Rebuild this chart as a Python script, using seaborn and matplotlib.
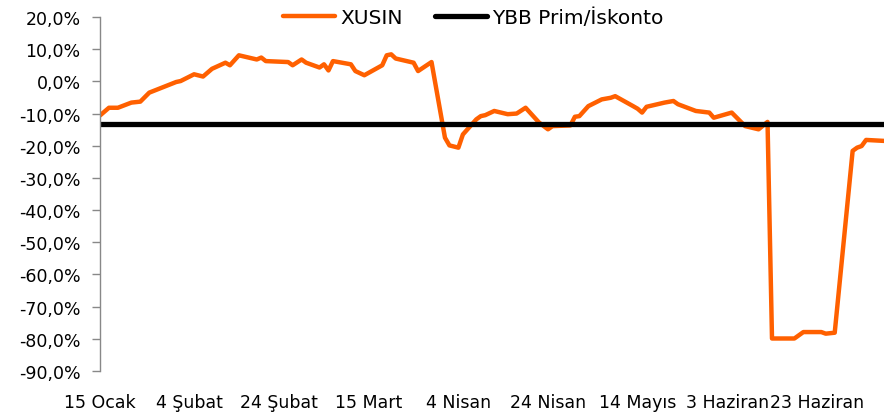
import pandas as pd
import numpy as np
import matplotlib
matplotlib.use('Agg')
import matplotlib.pyplot as plt
import seaborn as sns

# XUSIN series (2024)
dates = ['2024-01-15', '2024-01-17', '2024-01-19', '2024-01-22', '2024-01-24', '2024-01-26',
         '2024-02-01', '2024-02-02', '2024-02-05', '2024-02-07', '2024-02-09', '2024-02-12',
         '2024-02-13', '2024-02-15', '2024-02-19', '2024-02-20', '2024-02-21', '2024-02-26',
         '2024-02-27', '2024-02-29', '2024-03-01', '2024-03-04', '2024-03-05', '2024-03-06',
         '2024-03-07', '2024-03-11', '2024-03-12', '2024-03-14', '2024-03-18', '2024-03-19',
         '2024-03-20', '2024-03-21', '2024-03-25', '2024-03-26', '2024-03-29', '2024-04-01',
         '2024-04-02', '2024-04-04', '2024-04-05', '2024-04-08', '2024-04-09', '2024-04-10',
         '2024-04-12', '2024-04-15', '2024-04-17', '2024-04-19', '2024-04-22', '2024-04-24',
         '2024-04-25', '2024-04-29', '2024-04-30', '2024-05-01', '2024-05-03', '2024-05-06',
         '2024-05-08', '2024-05-09', '2024-05-13', '2024-05-14', '2024-05-15', '2024-05-16',
         '2024-05-20', '2024-05-22', '2024-05-23', '2024-05-27', '2024-05-30', '2024-05-31',
         '2024-06-04', '2024-06-07', '2024-06-10', '2024-06-12', '2024-06-13', '2024-06-18',
         '2024-06-20', '2024-06-24', '2024-06-25', '2024-06-27', '2024-07-01', '2024-07-02',
         '2024-07-03', '2024-07-04', '2024-07-08']
xusin = [-10.6, -8.2, -8.2, -6.6, -6.3, -3.5,
         -0.2, 0.1, 2.2, 1.5, 3.9, 5.8,
         5.0, 8.1, 6.8, 7.4, 6.3, 6.0,
         5.0, 6.8, 5.8, 4.3, 5.3, 3.4,
         6.3, 5.3, 3.2, 1.9, 5.0, 8.1,
         8.4, 7.1, 5.8, 3.2, 6.0, -17.5,
         -19.9, -20.6, -16.5, -11.8, -10.8, -10.5,
         -9.2, -10.2, -10.0, -8.2, -12.8, -14.9,
         -13.9, -13.7, -11.0, -10.8, -7.7, -5.6,
         -5.1, -4.6, -7.7, -8.5, -9.7, -7.9,
         -6.6, -6.1, -7.1, -9.2, -9.7, -11.3,
         -9.7, -13.9, -14.9, -12.6, -79.9, -79.9,
         -77.9, -77.9, -78.4, -78.1, -21.6, -20.6,
         -20.1, -18.2, -18.5]
ybb_prim = -13.4

tick_dates = ['2024-01-15', '2024-02-04', '2024-02-24', '2024-03-15', '2024-04-04',
              '2024-04-24', '2024-05-14', '2024-06-03', '2024-06-23']
tick_labels = ['15 Ocak', '4 Şubat', '24 Şubat', '15 Mart', '4 Nisan',
               '24 Nisan', '14 Mayıs', '3 Haziran', '23 Haziran']
y_ticks = [20, 10, 0, -10, -20, -30, -40, -50, -60, -70, -80, -90]

df = pd.DataFrame({'tarih': pd.to_datetime(dates), 'XUSIN': xusin})

sns.set_style('white')
plt.rcParams['font.family'] = ['DejaVu Sans']

fig = plt.figure(figsize=(8.85, 4.14), dpi=100)
ax = fig.add_axes([100 / 885, 1 - 372 / 414, 784 / 885, 354 / 414])

sns.lineplot(data=df, x='tarih', y='XUSIN', color='#FF6000', lw=3.2, label='XUSIN', ax=ax)
ax.axhline(ybb_prim, color='black', lw=3.8, label='YBB Prim/İskonto')

ax.set_xlim(df['tarih'].min(), df['tarih'].max())
ax.set_ylim(-90, 20)
ax.set_xticks(pd.to_datetime(tick_dates))
ax.set_xticklabels(tick_labels, fontsize=12.5, color='black')
ax.set_yticks(y_ticks)
ax.set_yticklabels([f'{v:.1f}%'.replace('.', ',') for v in y_ticks], fontsize=12.5, color='black')
ax.set_xlabel('')
ax.set_ylabel('')

for side in ['top', 'right', 'bottom']:
    ax.spines[side].set_visible(False)
ax.spines['left'].set_color('#888888')
ax.spines['left'].set_linewidth(1)
ax.tick_params(axis='y', which='both', left=True, length=6, width=1, color='#888888', pad=8)
ax.tick_params(axis='x', bottom=False, pad=12)

leg = ax.legend(loc='center', bbox_to_anchor=((473 - 100) / 784, 1.0), ncol=2, frameon=False,
                prop={'size': 14.5}, handlelength=2.6, handletextpad=0.25, columnspacing=1.6)
for t in leg.get_texts():
    t.set_color('black')

fig.savefig('out.png', dpi=100)
